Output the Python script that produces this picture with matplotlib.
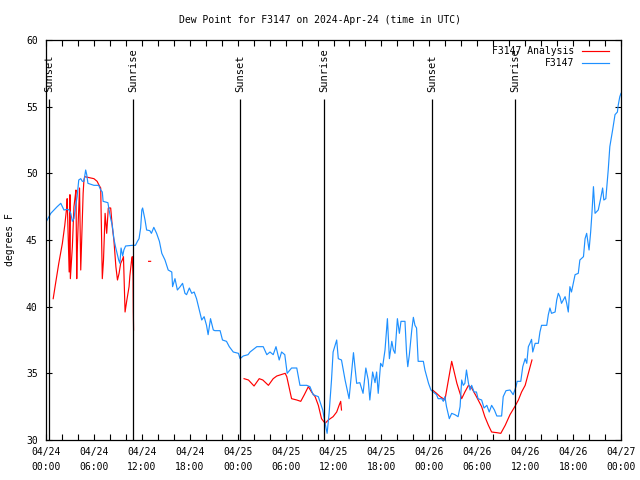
import numpy as np
import matplotlib
matplotlib.use("Agg")
import matplotlib.pyplot as plt
import matplotlib.dates as mdates

# Data (hours since 2024-04-24 00:00 UTC, dew point in deg F)
obs_hours = [0.05, 0.6, 1.4, 1.85, 2.05, 2.25, 2.65, 2.9, 3.1, 3.3, 3.5, 3.7, 3.9, 4.1, 4.35,
             4.55, 4.75, 4.97, 5.1, 5.25, 6.0, 6.6, 6.85, 7.05, 7.15, 7.75, 7.9, 8.1, 8.3, 8.5,
             8.7, 8.9, 9.1, 9.25, 9.4, 9.6, 9.75, 9.97, 10.8, 11.2, 11.45, 11.65, 11.85, 12.0,
             12.1, 12.27, 12.4, 12.6, 13.0, 13.2, 13.5, 13.85, 14.2, 14.5, 14.9, 15.3, 15.75,
             15.85, 16.15, 16.45, 16.8, 17.1, 17.4, 17.6, 17.95, 18.25, 18.55, 18.85, 19.2, 19.5,
             19.8, 20.1, 20.3, 20.6, 20.95, 21.15, 21.8, 22.1, 22.6, 22.95, 23.45, 24.1, 24.3,
             24.7, 25.3, 25.55, 26.4, 27.2, 27.65, 28.05, 28.45, 28.8, 29.2, 29.5, 29.9, 30.2,
             30.75, 31.4, 31.8, 32.65, 33.05, 33.45, 34.1, 34.65, 34.95, 35.2, 35.45, 35.75,
             35.95, 36.4, 36.6, 37.0, 37.45, 37.95, 38.5, 38.9, 39.3, 39.7, 40.05, 40.35, 40.55,
             40.9, 41.2, 41.4, 41.6, 41.9, 42.15, 42.45, 42.75, 43.0, 43.3, 43.5, 43.7, 44.0,
             44.25, 44.45, 44.95, 45.15, 45.3, 45.5, 45.8, 46.0, 46.2, 46.4, 46.6, 47.25, 47.45,
             47.9, 48.2, 48.5, 48.9, 49.1, 49.55, 49.75, 49.95, 50.15, 50.5, 50.8, 51.2, 51.6,
             51.85, 52.05, 52.25, 52.45, 52.65, 52.9, 53.1, 53.3, 53.6, 53.9, 54.1, 54.55, 54.85,
             55.2, 55.5, 55.8, 56.15, 56.45, 57.05, 57.25, 57.6, 58.1, 58.5, 58.85, 59.0, 59.45,
             59.7, 60.0, 60.2, 60.4, 60.6, 60.8, 60.95, 61.25, 61.65, 61.85, 62.05, 62.7, 62.9,
             63.1, 63.3, 63.75, 63.95, 64.15, 64.35, 64.55, 65.0, 65.2, 65.4, 65.6, 65.8, 66.25,
             66.65, 66.85, 67.3, 67.5, 67.7, 68.0, 68.2, 68.35, 68.55, 68.75, 69.15, 69.45, 69.7,
             69.85, 70.1, 70.4, 70.6, 70.95, 71.25, 71.55, 71.65, 71.85, 72.0]
obs_dew = [46.4, 47.0, 47.5, 47.75, 47.5, 47.25, 47.3, 47.25, 47.0, 46.4, 46.6, 47.5, 48.25, 49.5, 49.6,
           49.4, 49.4, 50.25, 49.9, 49.25, 49.1, 49.1, 48.75, 48.6, 47.9, 47.8, 47.25, 46.6, 46.1, 45.1,
           44.5, 44.0, 43.5, 43.25, 44.4, 43.8, 44.25, 44.55, 44.6, 44.6, 44.9, 45.1, 45.9, 47.25,
           47.4, 46.9, 46.5, 45.75, 45.7, 45.5, 45.95, 45.5, 44.9, 44.0, 43.5, 42.75, 42.6,
           41.5, 42.1, 41.25, 41.5, 41.75, 41.0, 40.9, 41.4, 41.0, 41.1, 40.6, 39.75, 39.0,
           39.25, 38.6, 37.9, 39.1, 38.25, 38.2, 38.2, 37.5, 37.4, 37.0, 36.6, 36.5, 36.1,
           36.3, 36.4, 36.6, 37.0, 37.0, 36.4, 36.6, 36.4, 37.0, 36.0, 36.6, 36.4, 35.0,
           35.4, 35.4, 34.1, 34.1, 34.0, 33.4, 33.25, 32.25, 31.25, 30.5, 32.0, 34.5,
           36.6, 37.5, 36.1, 36.0, 34.5, 33.1, 36.55, 34.25, 34.3, 33.5, 35.4, 34.5, 33.0,
           35.1, 34.3, 35.1, 33.5, 35.75, 35.5, 36.75, 39.1, 36.1, 37.4, 36.75, 36.5, 39.1,
           38.0, 38.9, 38.9, 36.5, 35.5, 36.4, 38.25, 39.2, 38.6, 38.4, 35.9, 35.9, 35.25,
           34.25, 33.75, 33.6, 33.4, 33.1, 33.1, 32.9, 33.25, 32.5, 31.6, 32.0, 31.9, 31.75,
           32.5, 34.5, 34.1, 34.25, 35.25, 34.25, 33.75, 34.1, 33.6, 33.6, 33.1, 33.0, 32.4,
           32.6, 32.1, 32.6, 32.25, 31.8, 31.8, 33.25, 33.7, 33.75, 33.4, 34.0, 34.4, 34.4,
           35.5, 36.1, 35.75, 37.0, 37.25, 37.55, 36.6, 37.25, 37.25, 38.1, 38.6, 38.6, 39.4,
           39.9, 39.5, 39.6, 40.5, 41.0, 40.75, 40.25, 40.75, 40.25, 39.6, 41.5, 41.1, 42.4,
           42.5, 43.5, 43.75, 45.1, 45.5, 44.25, 45.6, 46.9, 49.0, 47.0, 47.25, 48.1, 48.9,
           48.0, 48.1, 50.25, 52.0, 53.25, 54.4, 54.6, 55.1, 55.75, 56.0]

nan = np.nan
ana_hours = [0.9, 1.2, 1.6, 2.05, 2.35, 2.6, 2.65, 2.9, 3.0, 3.05, 3.3, 3.5, 3.65, 3.75, 3.85,
             3.9, 4.05, 4.2, 4.35, 4.65, 4.75, 4.85, 6.0, 6.4, 6.65, 6.85, 7.05, 7.2, 7.4, 7.6,
             7.8, 8.1, 8.3, 8.5, 8.75, 8.95, 9.15, 9.35, 9.55, 9.7, 9.9, 10.1, 10.4, 10.5, 10.7,
             10.8, 10.9, 10.93, 10.97, 11.5,
             12.85, 13.1, 13.5,
             24.8, 25.35, 26.05, 26.7, 27.15, 27.85, 28.45, 28.9, 29.95, 30.15, 30.75, 31.4,
             31.9, 32.35, 32.85, 33.25, 33.7, 34.1, 34.5, 34.95, 35.35, 35.95, 36.4, 36.7,
             36.9, 37.0, 40.0,
             48.4, 48.9, 49.35, 49.75, 49.95, 50.8, 51.45, 52.05, 52.45, 52.9, 53.3, 53.9,
             54.55, 54.95, 55.4, 55.8, 56.45, 56.95, 57.5, 58.1, 58.75, 59.15, 59.55, 60.0,
             60.4, 60.85]
ana_dew = [40.6, 41.75, 43.25, 44.75, 46.1, 47.5, 48.1, 42.6, 48.4, 42.1, 44.5, 47.5, 48.25, 48.75, 42.1,
           44.0, 46.6, 48.9, 42.75, 48.5, 49.5, 49.75, 49.6, 49.4, 49.1, 48.9, 42.1, 43.5, 47.0, 45.5,
           47.4, 47.4, 46.0, 45.0, 43.0, 42.0, 42.5, 43.25, 43.5, 43.75, 39.6, 40.4, 41.5, 42.3, 43.4,
           43.75, 42.3, 39.6, 38.25, nan,
           43.4, 43.4, nan,
           34.6, 34.5, 34.05, 34.6, 34.5, 34.1, 34.6, 34.8, 35.0, 34.75, 33.1, 33.0,
           32.9, 33.4, 34.0, 33.6, 33.25, 32.6, 31.6, 31.25, 31.5, 31.75, 32.1, 32.6,
           32.9, 32.25, nan,
           33.75, 33.5, 33.25, 33.1, 33.0, 35.9, 34.25, 33.1, 33.6, 34.1, 33.9, 33.25,
           32.5, 31.75, 31.1, 30.6, 30.55, 30.5, 31.1, 31.9, 32.55, 33.0, 33.6, 34.1,
           35.0, 36.0]

sun_hours = [0.4, 10.93, 24.33, 34.85, 48.37, 58.77]
sun_labels = ["Sunset", "Sunrise", "Sunset", "Sunrise", "Sunset", "Sunrise"]

t0 = np.datetime64("2024-04-24T00:00")

def to_time(hours):
    mins = np.round(np.array(hours) * 60).astype(int)
    return t0 + mins.astype("timedelta64[m]")

plt.rcParams["font.family"] = "DejaVu Sans Mono"
plt.rcParams["font.size"] = 7

fig = plt.figure(figsize=(6.4, 4.8), dpi=100)
ax = fig.add_axes([46 / 640, 40 / 480, 575 / 640, 400 / 480])

ax.plot(to_time(ana_hours), ana_dew, color="#ff0000", lw=0.85)
ax.plot(to_time(obs_hours), obs_dew, color="#1e90ff", lw=0.85)

for h, lab in zip(sun_hours, sun_labels):
    ax.vlines(to_time([h])[0], 30, 55.55, color="black", lw=0.9)
    ax.text(to_time([h])[0], 56.1, lab, rotation=90, ha="center", va="bottom",
            fontsize=7.5)

ax.set_ylim(30, 60)
ax.set_yticks(np.arange(30, 61, 5))
ax.set_xlim(to_time([0])[0], to_time([72])[0])
ax.xaxis.set_major_locator(mdates.HourLocator(byhour=[0, 6, 12, 18]))
ax.xaxis.set_minor_locator(mdates.HourLocator(byhour=range(0, 24, 2)))
ax.xaxis.set_major_formatter(mdates.DateFormatter("%m/%d\n%H:%M"))
for lbl in ax.get_xticklabels():
    lbl.set_linespacing(1.6)
ax.tick_params(which="both", direction="in", top=True, right=True, length=4, width=0.8)
ax.tick_params(axis="x", pad=5)
ax.tick_params(axis="y", pad=6)
for s in ax.spines.values():
    s.set_linewidth(0.9)

ax.set_ylabel("degrees F", labelpad=8)
fig.text(0.5, 0.958, "Dew Point for F3147 on 2024-Apr-24 (time in UTC)", ha="center", va="center")

# legend, gnuplot style: right-aligned text, sample on the right
ax.text(0.918, 0.973, "F3147 Analysis", transform=ax.transAxes, ha="right", va="center")
ax.plot([0.932, 0.979], [0.973, 0.973], transform=ax.transAxes, color="#ff0000", lw=0.85)
ax.text(0.918, 0.943, "F3147", transform=ax.transAxes, ha="right", va="center")
ax.plot([0.932, 0.979], [0.943, 0.943], transform=ax.transAxes, color="#1e90ff", lw=0.85)

fig.savefig("out.png", dpi=100)
